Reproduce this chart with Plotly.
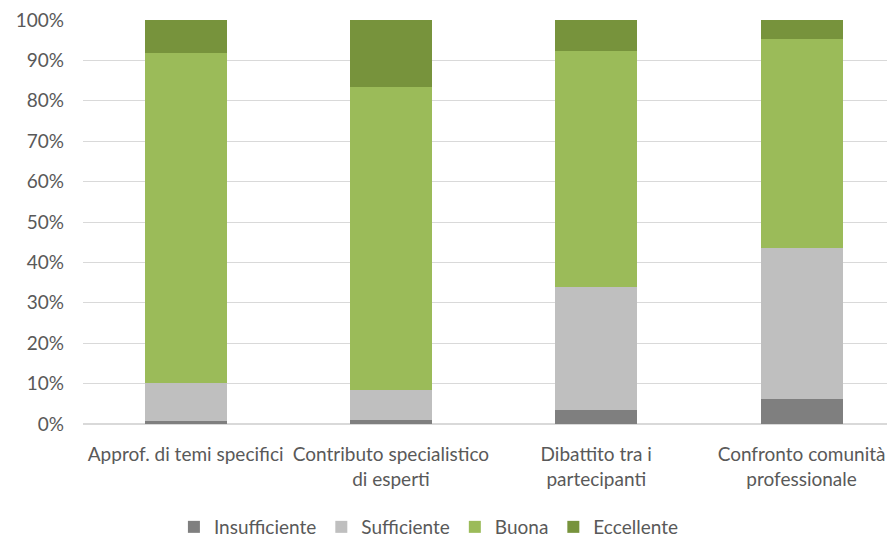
import plotly.graph_objects as go

# categorie e valori (% per ciascuna valutazione)
categorie = ["Approf. di temi specifici", "Contributo specialistico<br>di esperti",
             "Dibattito tra i<br>partecipanti", "Confronto comunità<br>professionale"]
insufficiente = [0.8, 1.1, 3.5, 6.1]
sufficiente = [9.4, 7.2, 30.3, 37.4]
buona = [81.7, 75.2, 58.5, 51.8]
eccellente = [8.1, 16.5, 7.7, 4.7]

serie = [("Insufficiente", insufficiente, "#7f7f7f"),
         ("Sufficiente", sufficiente, "#bfbfbf"),
         ("Buona", buona, "#9bbb59"),
         ("Eccellente", eccellente, "#77933c")]

fig = go.Figure()
for nome, valori, colore in serie:
    fig.add_trace(go.Bar(x=categorie, y=valori, name=nome, marker_color=colore,
                         marker_line_width=0))

# la pagina sposta la figura di 8px (margine del body): si compensa nei margini
fig.update_layout(
    width=895, height=538,
    barmode="stack", bargap=0.6,
    font={"family": "Lato, Open Sans, sans-serif", "size": 19, "color": "#595959"},
    paper_bgcolor="white", plot_bgcolor="white",
    margin={"l": 75, "r": 8, "t": 12, "b": 122},
    xaxis={"range": [-0.5, 3.455], "showline": False, "ticks": "", "showgrid": False,
           "tickangle": 0, "ticklabelstandoff": 17, "automargin": False},
    yaxis={"range": [0, 100], "dtick": 10, "ticksuffix": "%", "gridcolor": "#d9d9d9",
           "gridwidth": 1, "zeroline": True, "zerolinecolor": "#d9d9d9",
           "ticks": "", "ticklabelstandoff": 18, "automargin": False,
           "ticklabeloverflow": "allow"},
    legend={"orientation": "h", "x": 0.426, "xanchor": "center", "y": 0,
            "yref": "container", "yanchor": "bottom", "font": {"size": 19},
            "traceorder": "normal"},
)

fig.write_html("out.html")
